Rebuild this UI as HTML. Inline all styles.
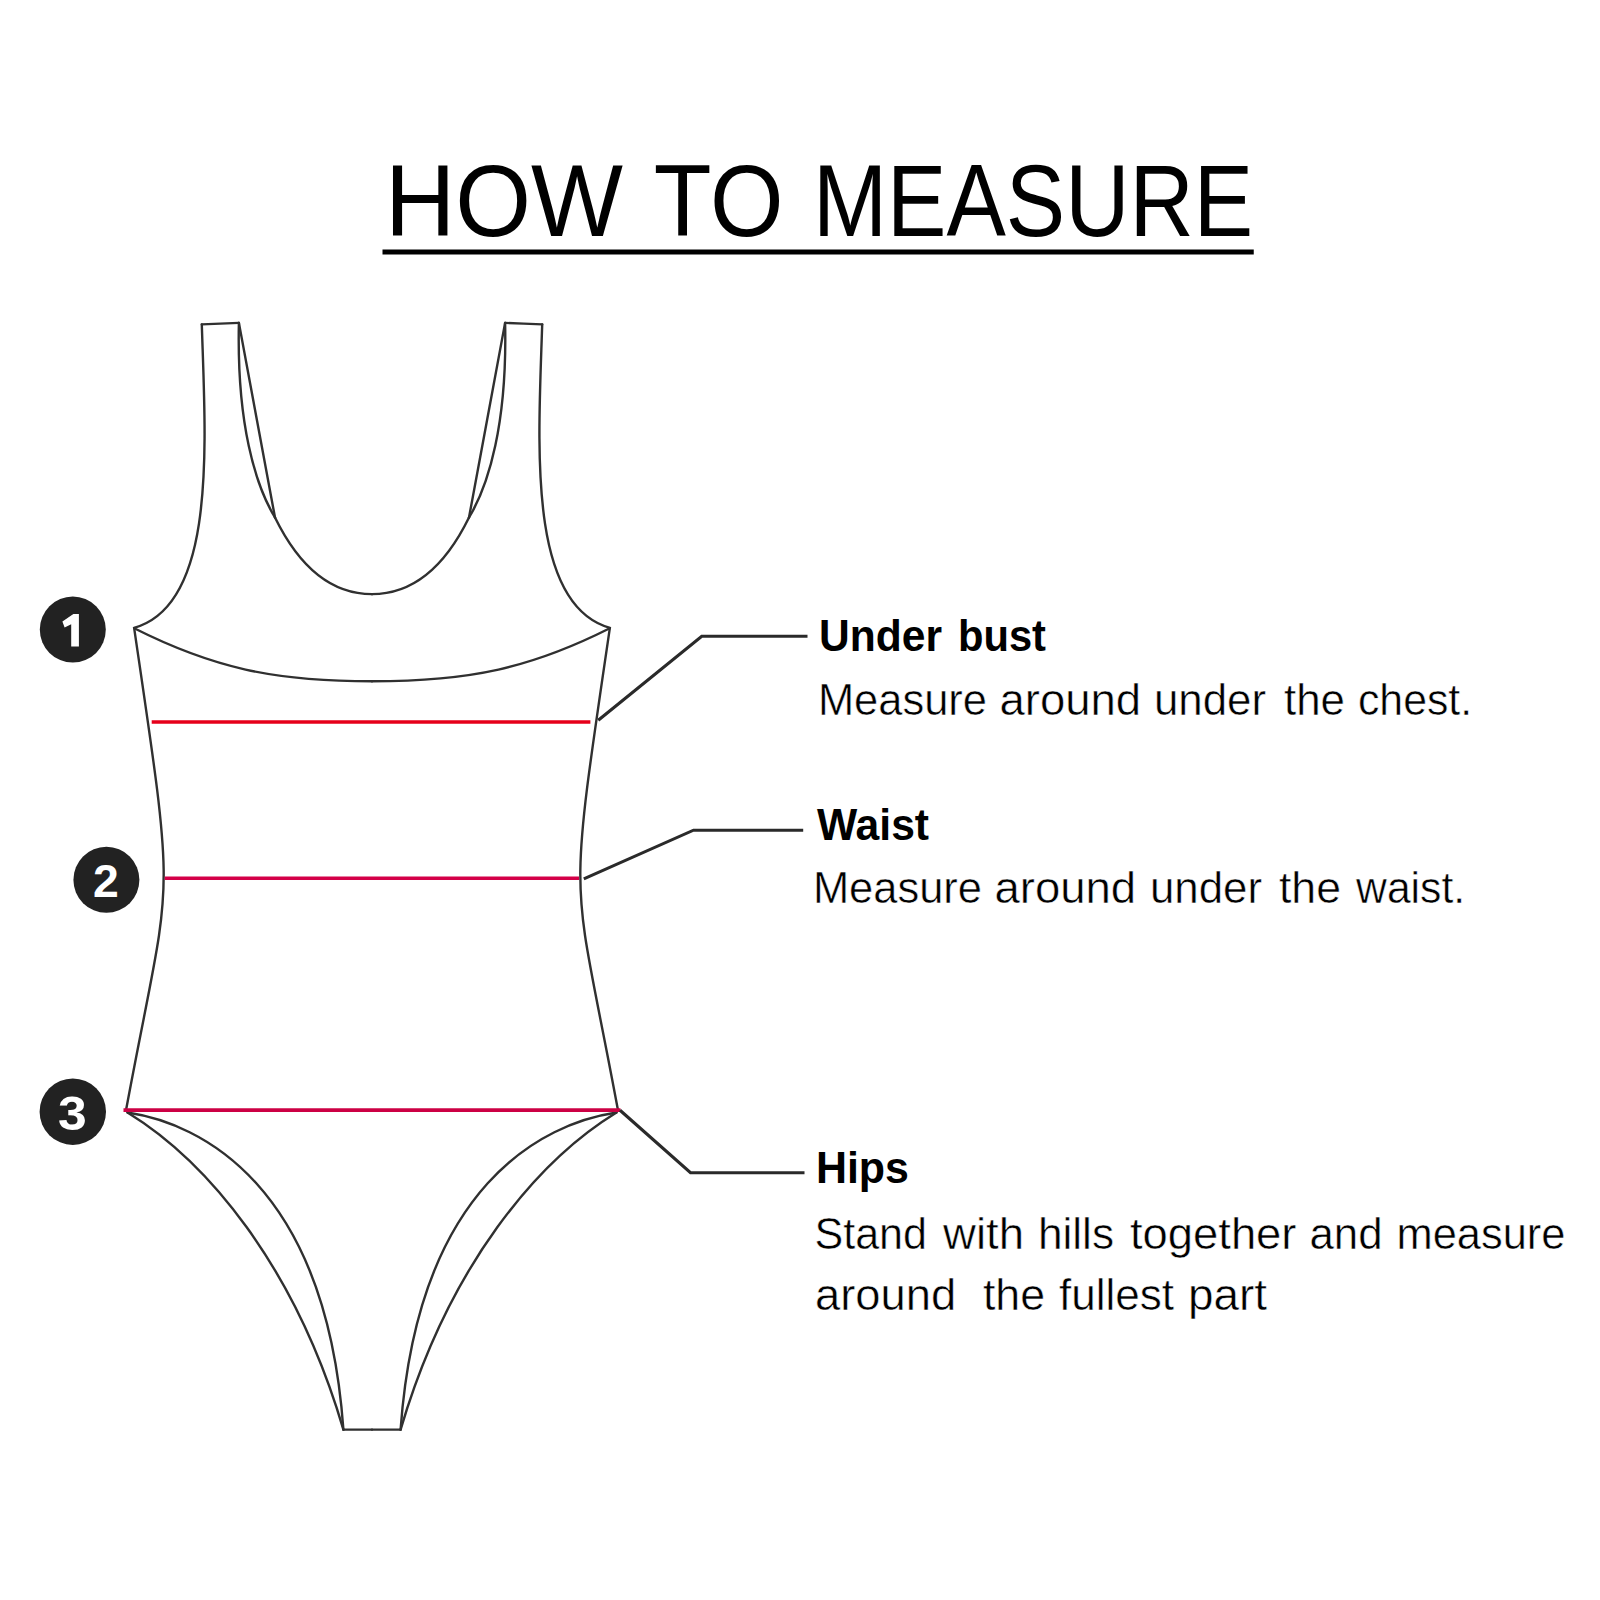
<!DOCTYPE html>
<html><head><meta charset="utf-8"><style>
html,body{margin:0;padding:0;background:#fff;width:1600px;height:1600px;overflow:hidden}
svg{display:block;font-family:"Liberation Sans",sans-serif}
</style></head><body>
<svg width="1600" height="1600" viewBox="0 0 1600 1600">
<rect x="0" y="0" width="1600" height="1600" fill="#fff"/>
<rect x="382.5" y="249.5" width="871.25" height="5.0" fill="#000"/>
<g fill="none" stroke="#303030" stroke-width="2.4" stroke-linejoin="round" stroke-linecap="round">
<path d="M 201.80 324.40 C 207.98 324.15 232.72 323.15 238.90 322.90"/>
<path d="M 542.20 324.40 C 536.02 324.15 511.28 323.15 505.10 322.90"/>
<path d="M 238.90 322.90 C 244.92 355.33 268.98 485.07 275.00 517.50"/>
<path d="M 505.10 322.90 C 499.08 355.33 475.02 485.07 469.00 517.50"/>
<path d="M 343.40 1429.60 C 348.17 1429.60 367.23 1429.60 372.00 1429.60"/>
<path d="M 400.60 1429.60 C 395.83 1429.60 376.77 1429.60 372.00 1429.60"/>
<path d="M 201.80 324.40 C 205.50 442.40 217.50 604.60 134.00 627.80"/>
<path d="M 542.20 324.40 C 538.50 442.40 526.50 604.60 610.00 627.80"/>
<path d="M 238.90 322.90 C 236.59 423.37 255.39 485.29 275.00 517.50"/>
<path d="M 505.10 322.90 C 507.41 423.37 488.61 485.29 469.00 517.50"/>
<path d="M 275.00 517.50 C 299.60 567.75 331.50 594.15 372.10 594.15"/>
<path d="M 469.00 517.50 C 444.40 567.75 412.50 594.15 371.90 594.15"/>
<path d="M 134.20 628.30 C 212.46 667.69 273.55 681.30 372.00 681.30"/>
<path d="M 609.80 628.30 C 531.54 667.69 470.45 681.30 372.00 681.30"/>
<path d="M 134.20 628.30 C 177.47 923.88 171.77 863.81 126.00 1110.30"/>
<path d="M 609.80 628.30 C 566.53 923.88 572.23 863.81 618.00 1110.30"/>
<path d="M 127.50 1112.50 C 205.70 1160.40 294.80 1264.40 343.40 1429.60"/>
<path d="M 616.50 1112.50 C 538.30 1160.40 449.20 1264.40 400.60 1429.60"/>
<path d="M 127.50 1112.50 C 200.60 1123.40 325.90 1184.70 343.40 1429.60"/>
<path d="M 616.50 1112.50 C 543.40 1123.40 418.10 1184.70 400.60 1429.60"/>
</g>
<line x1="151.70" y1="722.00" x2="590.40" y2="722.00" stroke="#e6001a" stroke-width="3.60"/>
<line x1="164.70" y1="878.20" x2="579.00" y2="878.20" stroke="#d40048" stroke-width="3.60"/>
<line x1="123.50" y1="1110.10" x2="620.50" y2="1110.10" stroke="#cc0044" stroke-width="3.60"/>
<polyline points="598.25,720.25 701.75,636.20 807.50,636.20" fill="none" stroke="#2a2a2a" stroke-width="3.10" stroke-linejoin="miter"/>
<polyline points="583.80,878.80 693.50,830.20 803.20,830.20" fill="none" stroke="#2a2a2a" stroke-width="3.10" stroke-linejoin="miter"/>
<polyline points="620.00,1110.25 690.50,1172.70 804.50,1172.70" fill="none" stroke="#2a2a2a" stroke-width="3.10" stroke-linejoin="miter"/>
<circle cx="72.80" cy="629.60" r="33.00" fill="#222"/>
<circle cx="106.40" cy="879.85" r="33.00" fill="#222"/>
<circle cx="72.80" cy="1111.70" r="33.20" fill="#222"/>
<text x="384.89" y="236.25" font-size="101.20" font-weight="400" textLength="238.24" lengthAdjust="spacingAndGlyphs" fill="#000">HOW</text>
<text x="653.87" y="236.25" font-size="101.20" font-weight="400" textLength="129.67" lengthAdjust="spacingAndGlyphs" fill="#000">TO</text>
<text x="812.88" y="236.25" font-size="101.20" font-weight="400" textLength="440.35" lengthAdjust="spacingAndGlyphs" fill="#000">MEASURE</text>
<text x="818.98" y="650.60" font-size="44.30" font-weight="700" textLength="123.01" lengthAdjust="spacingAndGlyphs" fill="#000">Under</text>
<text x="957.96" y="650.60" font-size="44.30" font-weight="700" textLength="88.07" lengthAdjust="spacingAndGlyphs" fill="#000">bust</text>
<text x="817.93" y="715.30" font-size="44.30" font-weight="400" textLength="169.07" lengthAdjust="spacingAndGlyphs" fill="#000" stroke="#fff" stroke-width="0.5">Measure</text>
<text x="999.45" y="715.30" font-size="44.30" font-weight="400" textLength="141.65" lengthAdjust="spacingAndGlyphs" fill="#000" stroke="#fff" stroke-width="0.5">around</text>
<text x="1153.95" y="715.30" font-size="44.30" font-weight="400" textLength="112.05" lengthAdjust="spacingAndGlyphs" fill="#000" stroke="#fff" stroke-width="0.5">under</text>
<text x="1284.00" y="715.30" font-size="44.30" font-weight="400" textLength="61.00" lengthAdjust="spacingAndGlyphs" fill="#000" stroke="#fff" stroke-width="0.5">the</text>
<text x="1357.96" y="715.30" font-size="44.30" font-weight="400" textLength="114.15" lengthAdjust="spacingAndGlyphs" fill="#000" stroke="#fff" stroke-width="0.5">chest.</text>
<text x="816.99" y="839.70" font-size="44.30" font-weight="700" textLength="112.02" lengthAdjust="spacingAndGlyphs" fill="#000">Waist</text>
<text x="812.93" y="903.40" font-size="44.30" font-weight="400" textLength="169.07" lengthAdjust="spacingAndGlyphs" fill="#000" stroke="#fff" stroke-width="0.5">Measure</text>
<text x="994.45" y="903.40" font-size="44.30" font-weight="400" textLength="141.65" lengthAdjust="spacingAndGlyphs" fill="#000" stroke="#fff" stroke-width="0.5">around</text>
<text x="1149.95" y="903.40" font-size="44.30" font-weight="400" textLength="112.05" lengthAdjust="spacingAndGlyphs" fill="#000" stroke="#fff" stroke-width="0.5">under</text>
<text x="1278.97" y="903.40" font-size="44.30" font-weight="400" textLength="62.04" lengthAdjust="spacingAndGlyphs" fill="#000" stroke="#fff" stroke-width="0.5">the</text>
<text x="1356.10" y="903.40" font-size="44.30" font-weight="400" textLength="109.04" lengthAdjust="spacingAndGlyphs" fill="#000" stroke="#fff" stroke-width="0.5">waist.</text>
<text x="815.92" y="1183.10" font-size="44.30" font-weight="700" textLength="93.12" lengthAdjust="spacingAndGlyphs" fill="#000">Hips</text>
<text x="814.43" y="1248.75" font-size="44.30" font-weight="400" textLength="112.61" lengthAdjust="spacingAndGlyphs" fill="#000" stroke="#fff" stroke-width="0.5">Stand</text>
<text x="943.08" y="1248.75" font-size="44.30" font-weight="400" textLength="80.94" lengthAdjust="spacingAndGlyphs" fill="#000" stroke="#fff" stroke-width="0.5">with</text>
<text x="1037.90" y="1248.75" font-size="44.30" font-weight="400" textLength="76.16" lengthAdjust="spacingAndGlyphs" fill="#000" stroke="#fff" stroke-width="0.5">hills</text>
<text x="1130.00" y="1248.75" font-size="44.30" font-weight="400" textLength="166.46" lengthAdjust="spacingAndGlyphs" fill="#000" stroke="#fff" stroke-width="0.5">together</text>
<text x="1309.46" y="1248.75" font-size="44.30" font-weight="400" textLength="73.12" lengthAdjust="spacingAndGlyphs" fill="#000" stroke="#fff" stroke-width="0.5">and</text>
<text x="1396.44" y="1248.75" font-size="44.30" font-weight="400" textLength="169.05" lengthAdjust="spacingAndGlyphs" fill="#000" stroke="#fff" stroke-width="0.5">measure</text>
<text x="814.96" y="1309.70" font-size="44.30" font-weight="400" textLength="141.14" lengthAdjust="spacingAndGlyphs" fill="#000" stroke="#fff" stroke-width="0.5">around</text>
<text x="982.95" y="1309.70" font-size="44.30" font-weight="400" textLength="62.12" lengthAdjust="spacingAndGlyphs" fill="#000" stroke="#fff" stroke-width="0.5">the</text>
<text x="1058.99" y="1309.70" font-size="44.30" font-weight="400" textLength="115.04" lengthAdjust="spacingAndGlyphs" fill="#000" stroke="#fff" stroke-width="0.5">fullest</text>
<text x="1187.95" y="1309.70" font-size="44.30" font-weight="400" textLength="79.09" lengthAdjust="spacingAndGlyphs" fill="#000" stroke="#fff" stroke-width="0.5">part</text>
<text x="92.97" y="897.39" font-size="45.38" font-weight="700" textLength="25.76" lengthAdjust="spacingAndGlyphs" fill="#fff">2</text>
<text x="57.92" y="1129.98" font-size="47.51" font-weight="700" textLength="28.74" lengthAdjust="spacingAndGlyphs" fill="#fff">3</text>
<path d="M 78.9 613.9 L 78.9 646.6 L 71.2 646.6 L 71.2 624.2 L 64.6 627.6 L 62.4 621.6 L 73.4 613.9 Z" fill="#fff"/>
</svg>
</body></html>
